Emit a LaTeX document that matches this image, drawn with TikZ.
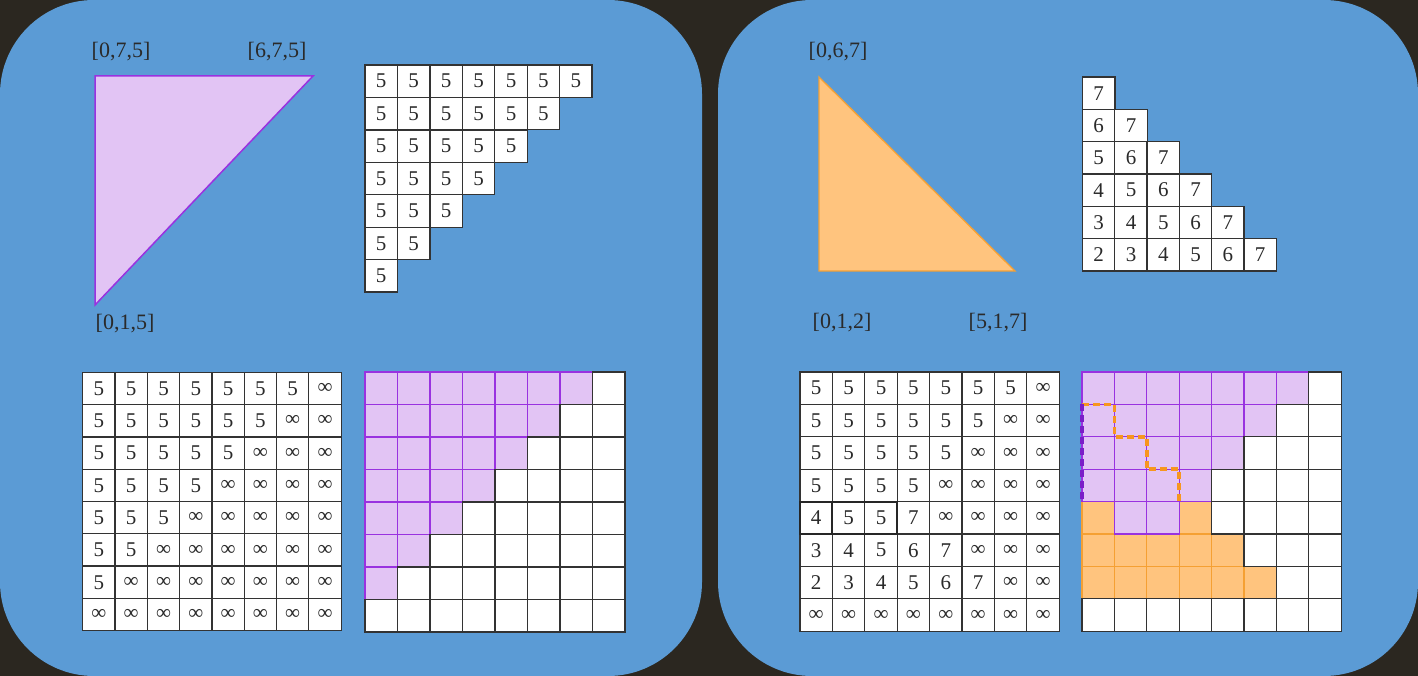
\documentclass[tikz,border=0pt]{standalone}
\usepackage{fontspec}
\setmainfont{Liberation Serif}
\definecolor{bgdark}{HTML}{2B2720}
\definecolor{panelblue}{HTML}{5B9BD5}
\definecolor{pfill}{HTML}{E2C4F4}
\definecolor{pline}{HTML}{9932E0}
\definecolor{ofill}{HTML}{FFC47E}
\definecolor{oline}{HTML}{F5A033}
\definecolor{odash}{HTML}{F7961E}
\definecolor{pdash}{HTML}{7A1FC8}
\definecolor{txt}{HTML}{2A2A2A}
\tikzset{
  cell/.style={draw=black!80, fill=white, line width=1.3pt, minimum size=32.4pt,
    inner sep=0pt, outer sep=0pt, text=txt, font=\fontsize{21}{24}\selectfont, anchor=north west},
  pcell/.style={cell, fill=pfill, draw=pline},
  ocell/.style={cell, fill=ofill, draw=oline},
  lbl/.style={text=txt, font=\fontsize{22}{26}\selectfont, inner sep=0pt},
  panel/.style={fill=panelblue, rounded corners=94pt},
}
\begin{document}
\begin{tikzpicture}[x=1pt,y=-1pt]
\useasboundingbox (0,0) rectangle (1418,676);
\fill[bgdark] (0,0) rectangle (1418,676);
\fill[panel] (0,0) rectangle (702,676);
\fill[panel] (718,0) rectangle (1418,676);

% ---------- left panel ----------
\draw[pline, fill=pfill, line width=1.5pt] (95,76) -- (313,76) -- (95,305) -- cycle;
\node[lbl] (l075) at (121,52) {[0,7,5]};
\node[lbl] (l675) at (277,52) {[6,7,5]};
\node[lbl] (l015) at (125,324) {[0,1,5]};

% staircase of 5s
\foreach \r in {0,...,6}{
  \pgfmathtruncatemacro{\cmax}{6-\r}
  \foreach \c in {0,...,\cmax}{
    \node[cell] (ls-\r-\c) at (365+\c*32.45, 65+\r*32.45) {5};
  }
}
% number grid
\foreach \r in {0,...,7}{
  \foreach \c in {0,...,7}{
    \pgfmathtruncatemacro{\s}{\c+\r}
    \ifnum\s<7
      \node[cell] (ln-\r-\c) at (82.7+\c*32.3, 372.3+\r*32.3) {5};
    \else
      \node[cell] (ln-\r-\c) at (82.7+\c*32.3, 372.3+\r*32.3) {∞};
    \fi
  }
}
% coloured grid: purple first, white on top
\foreach \r in {0,...,7}{
  \foreach \c in {0,...,7}{
    \pgfmathtruncatemacro{\s}{\c+\r}
    \ifnum\s<7
      \node[pcell] (lg-\r-\c) at (365+\c*32.5, 372+\r*32.5) {};
    \fi
  }
}
\foreach \r in {0,...,7}{
  \foreach \c in {0,...,7}{
    \pgfmathtruncatemacro{\s}{\c+\r}
    \ifnum\s>6
      \node[cell] (lg-\r-\c) at (365+\c*32.5, 372+\r*32.5) {};
    \fi
  }
}

% ---------- right panel ----------
\draw[oline, fill=ofill, line width=1.3pt] (819,77) -- (819,271) -- (1015,271) -- cycle;
\node[lbl] (l067) at (838,52) {[0,6,7]};
\node[lbl] (l012) at (842,323) {[0,1,2]};
\node[lbl] (l517) at (998,323) {[5,1,7]};

% staircase 2..7
\foreach \r in {0,...,5}{
  \foreach \c in {0,...,\r}{
    \pgfmathtruncatemacro{\v}{7-\r+\c}
    \node[cell] (rs-\r-\c) at (1082.5+\c*32.3, 77+\r*32.3) {\v};
  }
}
% number grid
\foreach \row [count=\r from 0] in {
  {5,5,5,5,5,5,5,∞},
  {5,5,5,5,5,5,∞,∞},
  {5,5,5,5,5,∞,∞,∞},
  {5,5,5,5,∞,∞,∞,∞},
  {4,5,5,7,∞,∞,∞,∞},
  {3,4,5,6,7,∞,∞,∞},
  {2,3,4,5,6,7,∞,∞},
  {∞,∞,∞,∞,∞,∞,∞,∞}}{
  \foreach \v [count=\c from 0] in \row {
    \node[cell] (rn-\r-\c) at (800+\c*32.4, 372+\r*32.4) {\v};
  }
}
\draw[black!85, line width=2pt] (rn-4-0.north west) rectangle (rn-4-0.south east);
\draw[black!85, line width=2pt] (rn-4-1.north west) rectangle (rn-4-2.south east);

% coloured grid: 0 white, 1 purple, 2 orange
\def\gridrows{{1,1,1,1,1,1,1,0},{1,1,1,1,1,1,0,0},{1,1,1,1,1,0,0,0},{1,1,1,1,0,0,0,0},{2,1,1,2,0,0,0,0},{2,2,2,2,2,0,0,0},{2,2,2,2,2,2,0,0},{0,0,0,0,0,0,0,0}}
\foreach \pass/\sty in {2/ocell,1/pcell,0/cell}{
  \foreach \row [count=\r from 0] in \gridrows {
    \foreach \t [count=\c from 0] in \row {
      \ifnum\t=\pass
        \node[\sty] (rg-\r-\c) at (1082+\c*32.4, 372+\r*32.4) {};
      \fi
    }
  }
}
\draw[odash, line width=3.6pt, dash pattern=on 7pt off 4pt]
  (rg-1-0.north west) -- (rg-1-0.north east) -- (rg-2-0.north east)
  -- (rg-2-1.north east) -- (rg-3-1.north east) -- (rg-3-2.north east) -- (rg-4-2.north east);
\draw[pdash, line width=4pt, dash pattern=on 7pt off 4pt]
  (rg-1-0.north west) -- (rg-4-0.north west);
\end{tikzpicture}
\end{document}
